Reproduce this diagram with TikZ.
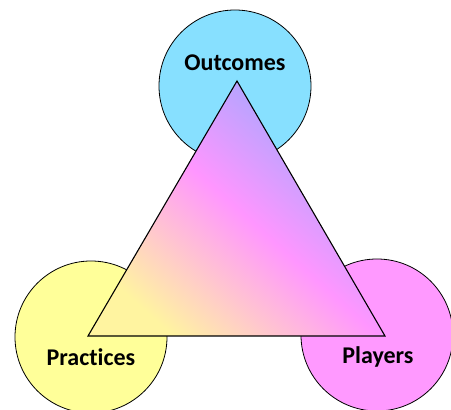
\documentclass[tikz,border=0pt]{standalone}
\usepackage{fontspec}
\setmainfont{Carlito}[Ligatures=NoCommon]
\usepackage{tikz}
\usetikzlibrary{positioning, calc}
\definecolor{outcomesBlue}{HTML}{87E0FF}
\definecolor{practicesYellow}{HTML}{FFFF99}
\definecolor{playersPink}{HTML}{FF99FF}
\definecolor{triYellow}{HTML}{FFF4A0}
\definecolor{triPink}{HTML}{FF96FF}
\definecolor{triBlue}{HTML}{96AAFF}

\begin{document}
\begin{tikzpicture}[
        x=1pt, y=1pt,
        thick,
        font=\fontsize{24}{28}\selectfont\bfseries,
        bubble/.style={circle, draw=black, line width=0.8pt, minimum size=152pt, inner sep=0pt},
        tag/.style={inner sep=0pt, text=black}
    ]
    \useasboundingbox (0,0) rectangle (451,410);

    % --- The three circles ---
    \node (outcomes) [bubble, fill=outcomesBlue] at (235,324) {};
    \node (practices) [bubble, fill=practicesYellow] at (91,73) {};
    \node (players) [bubble, fill=playersPink] at (377,75) {};

    % --- Labels ---
    \node (outcomesTag) [tag] at ([yshift=23pt]outcomes.center) {Outcomes};
    \node (practicesTag) [tag] at ([yshift=-20pt]practices.center) {Practices};
    \node (playersTag) [tag] at ([xshift=1pt, yshift=-22pt]players.center) {Players};

    % --- Shaded triangle on top ---
    \coordinate (apex) at (237,329);
    \coordinate (baseL) at (88,74);
    \coordinate (baseR) at (385,74);
    \path[top color=triBlue, bottom color=triYellow, middle color=triPink, shading angle=-42]
        (apex) -- (baseL) -- (baseR) -- cycle;
    \draw[line width=1.1pt, line join=miter] (apex) -- (baseL) -- (baseR) -- cycle;

\end{tikzpicture}
\end{document}
